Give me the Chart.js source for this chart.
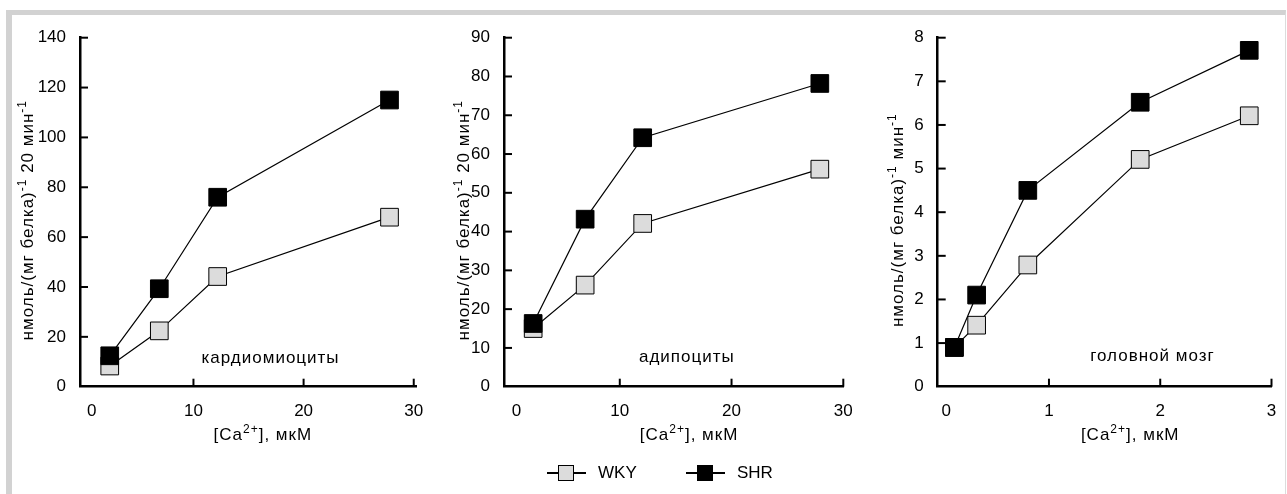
<!DOCTYPE html>
<html>
<head>
<meta charset="utf-8">
<script src="https://cdn.jsdelivr.net/npm/chart.js@4.4.1/dist/chart.umd.min.js"></script>
<style>
  body { margin: 0; width: 1287px; height: 494px; overflow: hidden; position: relative; background: #fff;
         font-family: "Liberation Sans", Arial, sans-serif; }
  #frame { position: absolute; left: 6px; top: 10px; width: 1273px; height: 490px;
           border-top: 5px solid #d2d2d2; border-left: 6px solid #d2d2d2; border-right: 1px solid #dcdcdc; }
  canvas { position: absolute; top: 15px; }
  .stub { position: absolute; height: 1.5px; background: #000; top: 472px; }
  .box { position: absolute; box-sizing: border-box; border: 1px solid #000; }
  .name { position: absolute; top: 463px; font-size: 17px; line-height: 20px; color: #000; }
</style>
</head>
<body>
<div id="frame"></div>
<canvas id="cardio" width="418" height="479" style="left:12px"></canvas>
<canvas id="adipo" width="430" height="479" style="left:430px"></canvas>
<canvas id="brain" width="425" height="479" style="left:860px"></canvas>

<div class="stub" style="left:547px;width:39px"></div>
<div class="box" style="left:558px;top:465px;width:16px;height:16px;background:#dcdcdc"></div>
<div class="name" style="left:598px">WKY</div>
<div class="stub" style="left:686px;width:39px"></div>
<div class="box" style="left:697px;top:465px;width:16px;height:16px;background:#000"></div>
<div class="name" style="left:737px">SHR</div>

<script>
// values
const cardioX = [2.4, 6.9, 12.2, 27.8];
const cardioWKY = [8.3, 22.4, 44.2, 68];
const cardioSHR = [12.4, 39.3, 76, 115];
const cardioXTicks = [0, 10, 20, 30];
const cardioYTicks = [0, 20, 40, 60, 80, 100, 120, 140];

const adipoX = [2.25, 6.9, 12.05, 27.9];
const adipoWKY = [15, 26.2, 42.1, 56.1];
const adipoSHR = [16.3, 43.2, 64.2, 78.2];
const adipoXTicks = [0, 10, 20, 30];
const adipoYTicks = [0, 10, 20, 30, 40, 50, 60, 70, 80, 90];

const brainX = [0.15, 0.35, 0.81, 1.82, 2.8];
const brainWKY = [0.9, 1.41, 2.79, 5.21, 6.21];
const brainSHR = [0.9, 2.1, 4.5, 6.52, 7.71];
const brainXTicks = [0, 1, 2, 3];
const brainYTicks = [0, 1, 2, 3, 4, 5, 6, 7, 8];

// rich titles: [text, isSuperscript]
const xTitle = [["[Ca", 0], ["2+", 1], ["], мкМ", 0]];
const yTitle20 = [["нмоль/(мг белка)", 0], ["-1", 1], [" 20 мин", 0], ["-1", 1]];
const yTitleMin = [["нмоль/(мг белка)", 0], ["-1", 1], [" мин", 0], ["-1", 1]];

const FONT = '"Liberation Sans", Arial, sans-serif';

function pairs(xs, ys) {
	return xs.map((x, i) => ({ x: x, y: ys[i] }));
}

// draws text with small raised parts, centred on (cx, cy)
function drawRich(ctx, parts, cx, cy, rot) {
	ctx.save();
	ctx.translate(cx, cy);
	ctx.rotate(rot);
	ctx.letterSpacing = "1px";
	let total = 0;
	const widths = parts.map((p) => {
		ctx.font = (p[1] ? "12px " : "17px ") + FONT;
		const w = ctx.measureText(p[0]).width;
		total += w;
		return w;
	});
	let x = -total / 2;
	ctx.fillStyle = "#000";
	ctx.textAlign = "left";
	ctx.textBaseline = "alphabetic";
	parts.forEach((p, i) => {
		ctx.font = (p[1] ? "12px " : "17px ") + FONT;
		ctx.fillText(p[0], x, p[1] ? -7 : 0);
		x += widths[i];
	});
	ctx.restore();
}

// inward tick marks, axis titles and the panel caption
const panelDecor = {
	id: "panelDecor",
	beforeDatasetsDraw(chart, args, opts) {
		const ctx = chart.ctx;
		const a = chart.chartArea;
		const xs = chart.scales.x;
		const ys = chart.scales.y;
		ctx.save();
		ctx.strokeStyle = "#000";
		ctx.lineWidth = 2;
		ys.ticks.forEach((t) => {
			if (t.value === 0) return;
			const y = ys.getPixelForValue(t.value);
			ctx.beginPath();
			ctx.moveTo(a.left, y);
			ctx.lineTo(a.left + 8, y);
			ctx.stroke();
		});
		xs.ticks.forEach((t) => {
			if (t.value === 0) return;
			const x = xs.getPixelForValue(t.value);
			ctx.beginPath();
			ctx.moveTo(x, a.bottom);
			ctx.lineTo(x, a.bottom - 8);
			ctx.stroke();
		});
		ctx.restore();

		drawRich(ctx, xTitle, xs.getPixelForValue(opts.xTitleAt), a.bottom + 53, 0);
		drawRich(ctx, opts.yTitle, a.left + opts.yTitleDx, (a.top + a.bottom) / 2 + 8, -Math.PI / 2);

		ctx.save();
		ctx.font = "17px " + FONT;
		ctx.letterSpacing = "1px";
		ctx.fillStyle = "#000";
		ctx.textAlign = "center";
		ctx.textBaseline = "middle";
		ctx.fillText(opts.caption, xs.getPixelForValue(opts.captionAt[0]), ys.getPixelForValue(opts.captionAt[1]));
		ctx.restore();
	},
};

function makePanel(id, p) {
	const axisLine = { display: true, color: "#000", width: 2.5 };
	const tickFont = { family: FONT, size: 17 };
	new Chart(document.getElementById(id), {
		type: "line",
		data: {
			datasets: [
				{
					label: "SHR",
					data: pairs(p.x, p.shr),
					borderColor: "#000",
					borderWidth: 1.2,
					pointStyle: "rect",
					pointRadius: 12.5,
					pointBackgroundColor: "#000",
					pointBorderColor: "#000",
					pointBorderWidth: 1,
					clip: false,
				},
				{
					label: "WKY",
					data: pairs(p.x, p.wky),
					borderColor: "#000",
					borderWidth: 1.2,
					pointStyle: "rect",
					pointRadius: 12.5,
					pointBackgroundColor: "#dcdcdc",
					pointBorderColor: "#000",
					pointBorderWidth: 1,
					clip: false,
				},
			],
		},
		options: {
			responsive: false,
			animation: false,
			events: [],
			layout: { padding: { top: 22.7, left: 0, right: p.padRight, bottom: 0 } },
			plugins: {
				legend: { display: false },
				tooltip: { enabled: false },
				panelDecor: p,
			},
			scales: {
				x: {
					type: "linear",
					min: p.xMin,
					max: p.xMax,
					afterBuildTicks: (s) => {
						s.ticks = p.xTicks.map((v) => ({ value: v }));
					},
					afterFit: (s) => {
						s.height = 107.3;
					},
					grid: { display: false },
					border: axisLine,
					ticks: {
						color: "#000",
						font: tickFont,
						padding: 6,
						maxRotation: 0,
						autoSkip: false,
						// the zero label sits a little right of the axis corner
						callback: (v) => (v === 0 ? "\u2002\u20020" : String(v)),
					},
				},
				y: {
					min: 0,
					max: p.yTicks[p.yTicks.length - 1],
					afterBuildTicks: (s) => {
						s.ticks = p.yTicks.map((v) => ({ value: v }));
					},
					afterFit: (s) => {
						s.width = p.axisX;
					},
					grid: { display: false },
					border: axisLine,
					ticks: { color: "#000", font: tickFont, padding: 6 },
				},
			},
		},
		plugins: [panelDecor],
	});
}

makePanel("cardio", {
	x: cardioX, wky: cardioWKY, shr: cardioSHR, xTicks: cardioXTicks, yTicks: cardioYTicks,
	xMin: -0.3, xMax: 30.25, axisX: 68, padRight: 10.7,
	yTitle: yTitle20, yTitleDx: -47, xTitleAt: 16.3,
	caption: "кардиомиоциты", captionAt: [17.0, 11.5],
});
makePanel("adipo", {
	x: adipoX, wky: adipoWKY, shr: adipoSHR, xTicks: adipoXTicks, yTicks: adipoYTicks,
	xMin: -0.36, xMax: 30, axisX: 74, padRight: 16.7,
	yTitle: yTitle20, yTitleDx: -35, xTitleAt: 16.2,
	caption: "адипоциты", captionAt: [16.0, 7.7],
});
makePanel("brain", {
	x: brainX, wky: brainWKY, shr: brainSHR, xTicks: brainXTicks, yTicks: brainYTicks,
	xMin: 0, xMax: 3, axisX: 77.7, padRight: 9.3,
	yTitle: yTitleMin, yTitleDx: -35, xTitleAt: 1.73,
	caption: "головной мозг", captionAt: [1.93, 0.69],
});
</script>
</body>
</html>
